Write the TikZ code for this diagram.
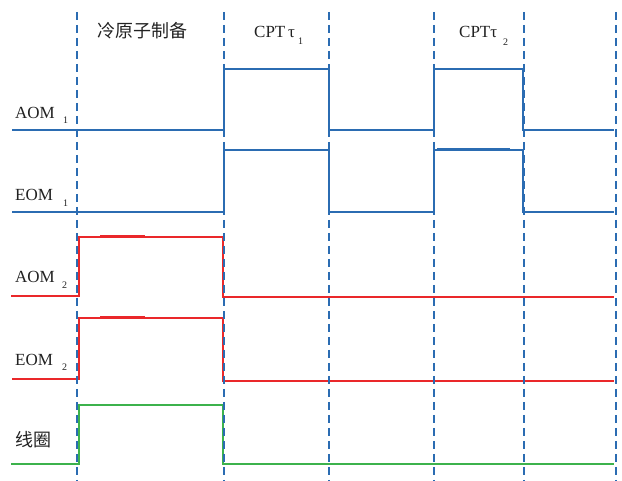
\documentclass[tikz,border=0pt]{standalone}
\usepackage{fontspec}
\setmainfont{Liberation Serif}
\newfontfamily\cjk{Noto Sans CJK SC}
\definecolor{sigblue}{RGB}{43,108,178}
\definecolor{sigred}{RGB}{234,40,42}
\definecolor{siggreen}{RGB}{60,178,76}
\definecolor{txt}{RGB}{34,34,34}
\begin{document}
\begin{tikzpicture}[x=1pt,y=-1pt,
  sig/.style={line width=2pt,line join=miter},
  divider/.style={sigblue,line width=2pt,dash pattern=on 8pt off 5pt},
  lbl/.style={anchor=base west,inner sep=0pt,text=txt,font=\fontsize{17}{17}\selectfont},
  sub/.style={anchor=base west,inner sep=0pt,text=txt,font=\fontsize{10}{10}\selectfont},
  cn/.style={anchor=west,inner sep=0pt,text=txt,font=\cjk\fontsize{18}{18}\selectfont}]
\useasboundingbox (0,0) rectangle (622,481);
% signals
\draw[sig,sigblue] (12,130) -- (224,130) -- (224,69) -- (329,69) -- (329,130) -- (434,130) -- (434,69) -- (523,69) -- (523,130) -- (614,130);
\draw[sig,sigblue] (12,212) -- (224,212) -- (224,150) -- (329,150) -- (329,212) -- (434,212) -- (434,150) -- (523,150) -- (523,212) -- (614,212);
\draw[sigblue,line width=1.5pt] (437,149) -- (510,149);
\draw[sig,sigred] (11,296) -- (79,296) -- (79,237) -- (223,237) -- (223,297) -- (614,297);
\draw[sigred,line width=1.5pt] (100,235.5) -- (145,235.5);
\draw[sig,sigred] (12,379) -- (79,379) -- (79,318) -- (223,318) -- (223,381) -- (614,381);
\draw[sigred,line width=1.5pt] (100,316.5) -- (145,316.5);
\draw[sig,siggreen] (11,464) -- (79,464) -- (79,405) -- (223,405) -- (223,464) -- (614,464);
% dividers
\foreach \xx/\nm in {77/d1,224/d2,329/d3,434/d4,524/d5,616/d6}{
  \coordinate (\nm t) at (\xx,12);
  \coordinate (\nm b) at (\xx,481);
  \draw[divider] (\nm t) -- (\nm b);
}
% labels
\node[cn] (prep) at (97,31) {冷原子制备};
\node[lbl] (cpt1) at (254,38) {CPT\,τ};
\node[sub] (cpt1s) at (298,45) {1};
\node[lbl] (cpt2) at (459,38) {CPTτ};
\node[sub] (cpt2s) at (503,46) {2};
\node[lbl] (aom1) at (15,119) {AOM};
\node[sub] (aom1s) at (63,124) {1};
\node[lbl] (eom1) at (15,201) {EOM};
\node[sub] (eom1s) at (63,207) {1};
\node[lbl] (aom2) at (15,283) {AOM};
\node[sub] (aom2s) at (62,289) {2};
\node[lbl] (eom2) at (15,366) {EOM};
\node[sub] (eom2s) at (62,371) {2};
\node[cn] (coil) at (15,440) {线圈};
\end{tikzpicture}
\end{document}
